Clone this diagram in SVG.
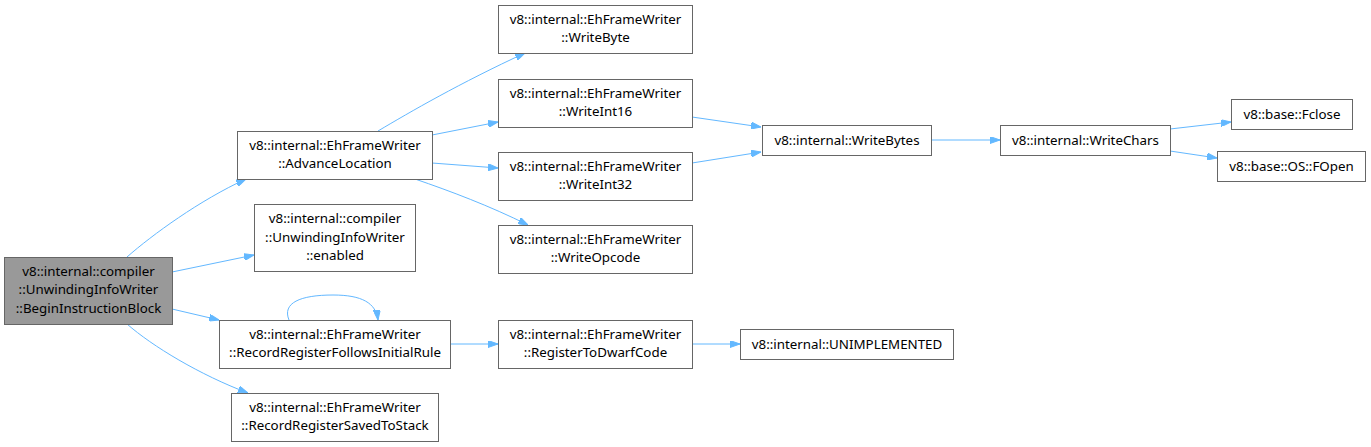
<svg xmlns="http://www.w3.org/2000/svg" width="1371" height="447" viewBox="0 0 1371 447">
<style>
.n rect{fill:#ffffff;stroke:#666666;stroke-width:1}
.n.root rect{fill:#999999}
.n text{font-family:"Noto Sans","Open Sans",sans-serif;font-size:13.33px;fill:#000000;text-anchor:middle}
.e path{fill:none;stroke:#63b8ff;stroke-width:1;marker-end:url(#ah)}
</style>
<defs>
<marker id="ah" viewBox="0 0 10 7" markerWidth="10" markerHeight="7" refX="10" refY="3.5" orient="auto" markerUnits="userSpaceOnUse">
<path d="M0,0 L10,3.5 L0,7 z" fill="#63b8ff" stroke="#63b8ff"/>
</marker>
</defs>
<rect width="1371" height="447" fill="#ffffff"/>
<g id="edges" class="e">
<path d="M127,257 C152,235 200,200 246,179"/>
<path d="M172,272 L254,255"/>
<path d="M172,309 L219,320"/>
<path d="M127,324 C152,346 200,375 248,393"/>
<path d="M378,131 C410,112 460,83 525,53"/>
<path d="M432,135 L498,122"/>
<path d="M432,163 L498,168"/>
<path d="M415,179 C450,191 490,206 528,225"/>
<path d="M692,117 L761,127"/>
<path d="M692,163 L761,152"/>
<path d="M931,140 L1000,140"/>
<path d="M1170,129 L1231,122"/>
<path d="M1170,151 L1217,158"/>
<path d="M289,320 C282,303 300,295 333,295 C362,295 376,303 378,320"/>
<path d="M450,344 L498,344"/>
<path d="M692,344 L740,344"/>
</g>
<g id="n_root" class="n root"><rect x="4.5" y="257.5" width="168" height="67"/><text x="88.5" y="275.5">v8::internal::compiler</text><text x="88.5" y="294">::UnwindingInfoWriter</text><text x="88.5" y="313">::BeginInstructionBlock</text></g>
<g id="n_advance" class="n"><rect x="237.5" y="131.5" width="195" height="48"/><text x="335" y="149.5">v8::internal::EhFrameWriter</text><text x="335" y="167.5">::AdvanceLocation</text></g>
<g id="n_enabled" class="n"><rect x="254.5" y="204.5" width="161" height="67"/><text x="335" y="223">v8::internal::compiler</text><text x="335" y="241.5">::UnwindingInfoWriter</text><text x="335" y="260">::enabled</text></g>
<g id="n_follows" class="n"><rect x="219.5" y="320.5" width="231" height="48"/><text x="335" y="338.5">v8::internal::EhFrameWriter</text><text x="335" y="356.5">::RecordRegisterFollowsInitialRule</text></g>
<g id="n_saved" class="n"><rect x="231.5" y="393.5" width="207" height="48"/><text x="335" y="411.5">v8::internal::EhFrameWriter</text><text x="335" y="429.5">::RecordRegisterSavedToStack</text></g>
<g id="n_writebyte" class="n"><rect x="498.5" y="5.5" width="194" height="48"/><text x="595.5" y="23.5">v8::internal::EhFrameWriter</text><text x="595.5" y="41.5">::WriteByte</text></g>
<g id="n_writeint16" class="n"><rect x="498.5" y="79.5" width="194" height="48"/><text x="595.5" y="97.5">v8::internal::EhFrameWriter</text><text x="595.5" y="115.5">::WriteInt16</text></g>
<g id="n_writeint32" class="n"><rect x="498.5" y="152.5" width="194" height="48"/><text x="595.5" y="170.5">v8::internal::EhFrameWriter</text><text x="595.5" y="188.5">::WriteInt32</text></g>
<g id="n_writeopcode" class="n"><rect x="498.5" y="225.5" width="194" height="48"/><text x="595.5" y="243.5">v8::internal::EhFrameWriter</text><text x="595.5" y="261.5">::WriteOpcode</text></g>
<g id="n_regdwarf" class="n"><rect x="498.5" y="320.5" width="194" height="48"/><text x="595.5" y="338.5">v8::internal::EhFrameWriter</text><text x="595.5" y="356.5">::RegisterToDwarfCode</text></g>
<g id="n_writebytes" class="n"><rect x="762.5" y="125.5" width="169" height="30"/><text x="847" y="145">v8::internal::WriteBytes</text></g>
<g id="n_writechars" class="n"><rect x="1000.5" y="125.5" width="170" height="30"/><text x="1085.5" y="145">v8::internal::WriteChars</text></g>
<g id="n_fclose" class="n"><rect x="1231.5" y="99.5" width="121" height="30"/><text x="1292" y="119">v8::base::Fclose</text></g>
<g id="n_fopen" class="n"><rect x="1217.5" y="151.5" width="148" height="30"/><text x="1291.5" y="171">v8::base::OS::FOpen</text></g>
<g id="n_unimpl" class="n"><rect x="740.5" y="329.5" width="213" height="30"/><text x="847" y="349">v8::internal::UNIMPLEMENTED</text></g>
</svg>
